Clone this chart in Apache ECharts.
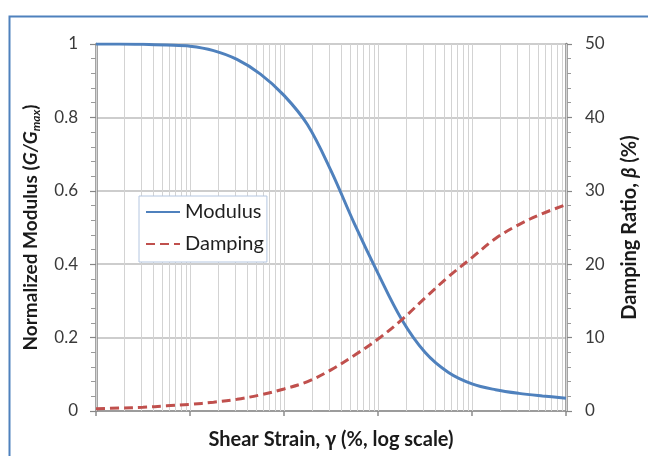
<!DOCTYPE html>
<html>
<head>
<meta charset="utf-8">
<title>Modulus reduction and damping curves</title>
<script src="https://cdn.jsdelivr.net/npm/echarts@6/dist/echarts.min.js"></script>
<style>
  html, body { margin: 0; padding: 0; background: #ffffff; }
  #chart { width: 648px; height: 456px; }
</style>
</head>
<body>
<div id="chart"></div>
<script>
// Shear strain (%), four points per decade from 0.0001 to 10
const strain = [
  0.0001, 0.000178, 0.000316, 0.000562,
  0.001, 0.00178, 0.00316, 0.00562,
  0.01, 0.0178, 0.0316, 0.0562,
  0.1, 0.178, 0.316, 0.562,
  1, 1.78, 3.16, 5.62,
  10
];
// Normalized modulus G/Gmax
const modulus = [
  1.000, 1.000, 0.999, 0.997,
  0.994, 0.982, 0.958, 0.918,
  0.860, 0.780, 0.655, 0.510,
  0.375, 0.250, 0.160, 0.105,
  0.074, 0.058, 0.048, 0.041,
  0.035
];
// Damping ratio (%)
const damping = [
  0.3, 0.4, 0.5, 0.7,
  0.9, 1.2, 1.6, 2.2,
  3.0, 4.0, 5.6, 7.6,
  9.8, 12.4, 15.4, 18.3,
  20.9, 23.5, 25.4, 26.9,
  28.1
];

// Axis tick labels
const modulusTicks = ['0', '0.2', '0.4', '0.6', '0.8', '1'];
const dampingTicks = ['0', '10', '20', '30', '40', '50'];

// Vertical grid lines of the log axis: decades and 2..9 within each decade
const decades = [0.0001, 0.001, 0.01, 0.1, 1, 10];
const gridStrains = [];
decades.slice(0, -1).forEach(function (d) {
  for (let k = 1; k <= 9; k++) gridStrains.push(+(d * k).toPrecision(3));
});
gridStrains.push(10);

const FONT = 'Lato, "Open Sans", sans-serif';

const chart = echarts.init(document.getElementById('chart'), null, { renderer: 'canvas' });

chart.setOption({
  animation: false,
  backgroundColor: '#ffffff',
  graphic: [{
    type: 'rect',
    left: 7, top: 14,
    shape: { width: 700, height: 500 },
    style: { fill: 'none', stroke: '#4f81bd', lineWidth: 2 },
    z: 100
  }],
  grid: { left: 96, right: 80, top: 44, bottom: 45, containLabel: false },
  legend: {
    left: 139, top: 196,
    orient: 'vertical',
    padding: [6, 3, 8, 6],
    itemGap: 12,
    itemWidth: 34,
    itemHeight: 14,
    backgroundColor: '#ffffff',
    borderColor: '#b4c6e0',
    borderWidth: 1,
    borderRadius: 0,
    itemStyle: { opacity: 0 },
    textStyle: { fontFamily: FONT, fontSize: 20, color: '#1f1f1f', lineHeight: 20 },
    data: ['Modulus', 'Damping']
  },
  xAxis: {
    type: 'log',
    logBase: 10,
    min: 0.0001,
    max: 10,
    name: 'Shear Strain, \u03b3 (%, log scale)',
    nameLocation: 'middle',
    nameGap: 19,
    nameTextStyle: { fontFamily: FONT, fontSize: 20, fontWeight: 'bold', color: '#1a1a1a' },
    axisLine: { show: true, lineStyle: { color: '#8c8c8c', width: 1.5 } },
    axisTick: { show: true, length: 5, lineStyle: { color: '#8c8c8c', width: 1.5 } },
    axisLabel: { show: false },
    splitLine: { show: false },
    minorTick: { show: false }
  },
  yAxis: [{
    type: 'value',
    min: 0, max: 1, interval: 0.2,
    position: 'left',
    name: '{t|Normalized Modulus (}{i|G/G}{s|max}{t|)}',
    nameLocation: 'middle',
    nameRotate: 90,
    nameGap: 54,
    nameTextStyle: {
      rich: {
        t: { fontFamily: FONT, fontSize: 19, fontWeight: 'bold', color: '#1a1a1a', lineHeight: 22 },
        i: { fontFamily: FONT, fontSize: 19, fontWeight: 'bold', fontStyle: 'italic', color: '#1a1a1a', lineHeight: 22 },
        s: { fontFamily: FONT, fontSize: 12, fontWeight: 'bold', fontStyle: 'italic', color: '#1a1a1a', verticalAlign: 'bottom', lineHeight: 22, padding: [7, 0, 0, 0] }
      }
    },
    axisLine: { show: true, lineStyle: { color: '#868686', width: 2.5 } },
    axisTick: { show: true, length: 6, lineStyle: { color: '#868686', width: 1.2 } },
    minorTick: { show: true, splitNumber: 5, length: 5, lineStyle: { color: '#9a9a9a', width: 1 } },
    axisLabel: {
      margin: 18,
      fontFamily: FONT, fontSize: 17, color: '#3a3a3a',
      formatter: function (v) { return modulusTicks[Math.round(v / 0.2)]; }
    },
    splitLine: { show: true, lineStyle: { color: '#bdbdbd', width: 1.5 } }
  }, {
    type: 'value',
    min: 0, max: 50, interval: 10,
    position: 'right',
    name: '{t|Damping Ratio, }{i|\u03b2}{t| (%)}',
    nameLocation: 'middle',
    nameRotate: 90,
    nameGap: 54,
    nameTextStyle: {
      rich: {
        t: { fontFamily: FONT, fontSize: 20, fontWeight: 'bold', color: '#1a1a1a' },
        i: { fontFamily: FONT, fontSize: 20, fontWeight: 'bold', fontStyle: 'italic', color: '#1a1a1a' }
      }
    },
    axisLine: { show: true, lineStyle: { color: '#868686', width: 2.5 } },
    axisTick: { show: true, length: 6, lineStyle: { color: '#868686', width: 1.2 } },
    minorTick: { show: true, splitNumber: 5, length: 5, lineStyle: { color: '#9a9a9a', width: 1 } },
    axisLabel: {
      margin: 19,
      fontFamily: FONT, fontSize: 17, color: '#3a3a3a',
      formatter: function (v) { return dampingTicks[Math.round(v / 10)]; }
    },
    splitLine: { show: false }
  }],
  series: [{
    // vertical log-scale grid lines
    type: 'custom',
    name: 'grid',
    xAxisIndex: 0,
    yAxisIndex: 0,
    silent: true,
    z: 1,
    data: gridStrains.map(function (s) { return [s, 0]; }),
    encode: { x: 0, y: 1 },
    renderItem: function (params, api) {
      const x = api.value(0);
      const p0 = api.coord([x, 0]);
      const p1 = api.coord([x, 1]);
      return {
        type: 'line',
        shape: { x1: Math.round(p0[0]) + 0.5, y1: p0[1], x2: Math.round(p1[0]) + 0.5, y2: p1[1] },
        style: { stroke: '#d3d3d3', lineWidth: 1 }
      };
    }
  }, {
    name: 'Modulus',
    type: 'line',
    yAxisIndex: 0,
    smooth: 0.35,
    symbol: 'none',
    z: 3,
    data: strain.map(function (s, i) { return [s, modulus[i]]; }),
    lineStyle: { color: '#4f81bd', width: 3 },
    itemStyle: { color: '#4f81bd' }
  }, {
    name: 'Damping',
    type: 'line',
    yAxisIndex: 1,
    smooth: 0.35,
    symbol: 'none',
    z: 3,
    data: strain.map(function (s, i) { return [s, damping[i]]; }),
    lineStyle: { color: '#c0504d', width: 3, type: [9, 5] },
    itemStyle: { color: '#c0504d' }
  }]
});
</script>
</body>
</html>
